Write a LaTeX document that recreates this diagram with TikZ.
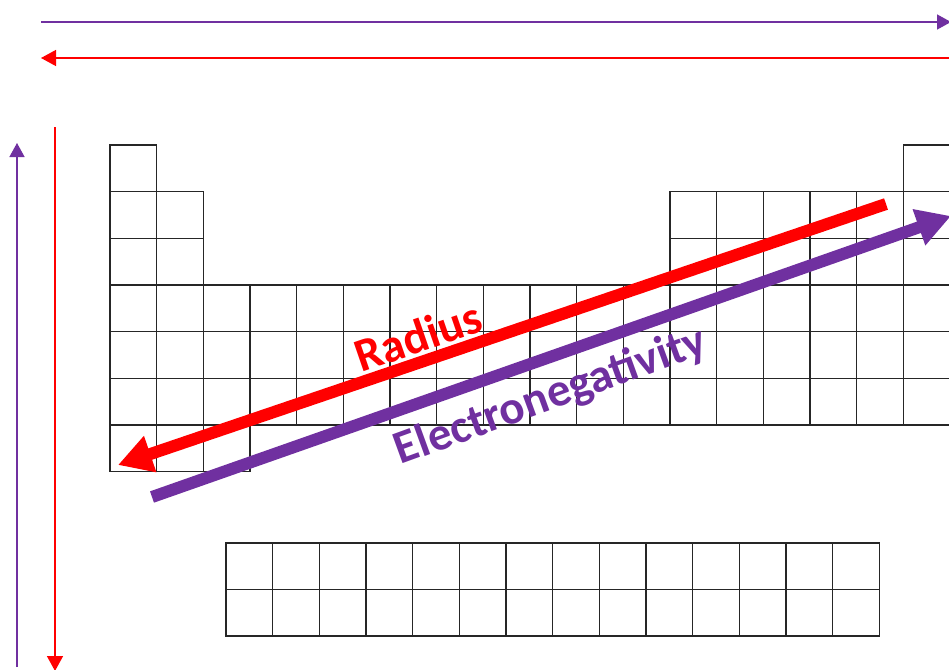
\documentclass[tikz,border=0pt]{standalone}
\usepackage{fontspec}
\setmainfont{Carlito}
\usetikzlibrary{arrows.meta}
\definecolor{pur}{HTML}{7030A0}
\definecolor{rd}{HTML}{FF0000}
\begin{document}
\begin{tikzpicture}[x=1pt,y=-1pt,
  cellbox/.style={draw=black!85, line width=1.5pt},
  thinpur/.style={draw=pur, line width=1.4pt, -{Triangle[length=14pt,width=15pt]}},
  thinred/.style={draw=rd, line width=1.4pt, -{Triangle[length=15pt,width=16pt]}},
  bigred/.style={draw=rd, line width=12pt, -{Triangle[length=34pt,width=36pt]}},
  bigpur/.style={draw=pur, line width=12pt, -{Triangle[length=34pt,width=36pt]}},
  lbl/.style={font=\bfseries\fontsize{47}{47}\selectfont, inner sep=0pt}]
\useasboundingbox (0,0) rectangle (949,669);
\clip (0,0) rectangle (949,669);
\def\cw{46.67}
\newcommand\cellat[2]{\draw[cellbox] ({110+(#1-1)*\cw},{145+(#2-1)*\cw}) rectangle ++(\cw,\cw);}
% main table
\foreach \c in {1,18} {\cellat{\c}{1}}
\foreach \r in {2,3} {\foreach \c in {1,2,13,14,15,16,17,18} {\cellat{\c}{\r}}}
\foreach \r in {4,5,6} {\foreach \c in {1,...,18} {\cellat{\c}{\r}}}
\foreach \c in {1,2,3} {\cellat{\c}{7}}
% lanthanides / actinides
\foreach \r in {0,1} {\foreach \c in {0,...,13} {\draw[cellbox] ({226+\c*\cw},{543+\r*46.5}) rectangle ++(\cw,46.5);}}
% coordinates
\coordinate (tpS) at (41,22);   \coordinate (tpE) at (951,22);
\coordinate (trS) at (951,58);  \coordinate (trE) at (41,58);
\coordinate (lpS) at (17,667);  \coordinate (lpE) at (17,143);
\coordinate (lrS) at (55,127);  \coordinate (lrE) at (55,671);
\coordinate (drS) at (886,204); \coordinate (drE) at (118,465);
\coordinate (dpS) at (152,497); \coordinate (dpE) at (951,216);
% thin arrows
\draw[thinpur] (tpS) -- (tpE);
\draw[thinred] (trS) -- (trE);
\draw[thinpur] (lpS) -- (lpE);
\draw[thinred] (lrS) -- (lrE);
% thick arrows
\draw[bigred] (drS) -- (drE);
\draw[bigpur] (dpS) -- (dpE);
% labels
\node[lbl, text=rd, rotate=19] (radius) at (418,336) {Radius};
\node[lbl, text=pur, rotate=20] (eneg) at (551,397) {Electronegativity};
\end{tikzpicture}
\end{document}
